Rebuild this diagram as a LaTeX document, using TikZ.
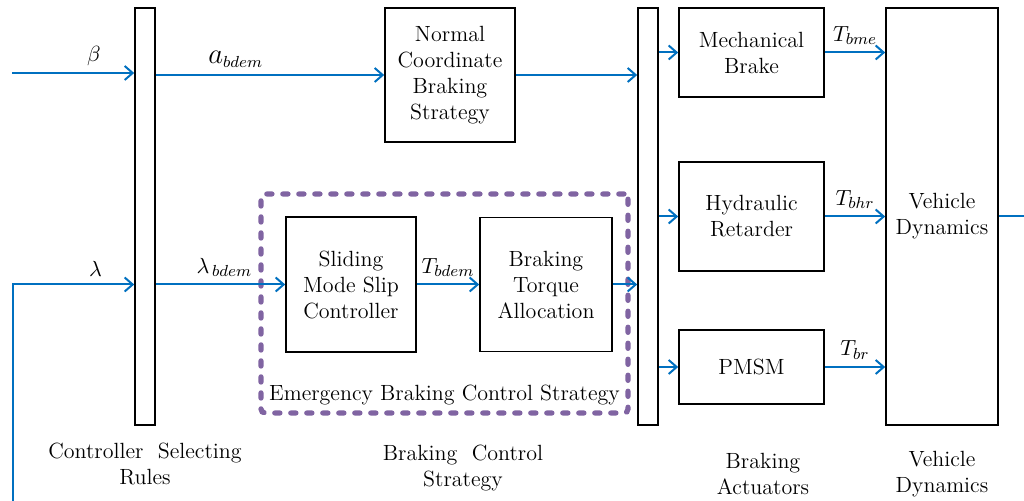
\documentclass[tikz,border=0pt]{standalone}
\usepackage{amsmath}
\usetikzlibrary{arrows.meta}
\definecolor{sigblue}{RGB}{0,112,192}
\definecolor{ebpurple}{RGB}{128,100,162}

\begin{document}
\begin{tikzpicture}[x=0.5pt, y=-0.5pt,
    font=\fontsize{11}{13}\selectfont,
    block/.style ={rectangle, draw, line width=0.8pt, align=center, inner sep=1pt},
    bar/.style ={rectangle, draw, line width=0.8pt, minimum width=10pt, minimum height=208.5pt},
    signal/.style ={draw=sigblue, line width=1pt, -{Straight Barb[length=4pt, width=7pt]}},
    caption/.style ={align=center, font=\fontsize{11}{13}\selectfont}]
   \useasboundingbox (0,0) rectangle (1024,501);

   \node[bar] (csr) at (145,216.5) {};
   \node[bar] (sel) at (648,216.5) {};
   \node[block, minimum width=65pt, minimum height=67pt] (ncbs) at (450,75) {Normal\\Coordinate\\Braking\\Strategy};
   \node[rectangle, draw=ebpurple, line width=2.6pt, dash pattern=on 2.6pt off 5.4pt, line cap=round, rounded corners=2pt,
         minimum width=183.5pt, minimum height=109.5pt] (ebcs) at (444.5,303.5) {};
   \node[block, minimum width=65pt, minimum height=67.5pt] (smsc) at (351,284.5) {Sliding\\Mode Slip\\Controller};
   \node[block, minimum width=66pt, minimum height=67pt] (bta) at (546,284.5) {Braking\\Torque\\Allocation};
   \node (ebl) at (444.5,395) {Emergency Braking Control Strategy};
   \node[block, minimum width=72.5pt, minimum height=44.5pt] (mb) at (751.5,52.5) {Mechanical\\Brake};
   \node[block, minimum width=72.5pt, minimum height=54.5pt] (hr) at (751.5,216.5) {Hydraulic\\Retarder};
   \node[block, minimum width=72.5pt, minimum height=37pt] (pmsm) at (751.5,367) {PMSM};
   \node[block, minimum width=56pt, minimum height=208.5pt] (vd) at (942,216.5) {Vehicle\\Dynamics};

   \coordinate (bin) at (12,73);
   \coordinate (lin) at (13,501);
   \coordinate (vout) at (1024,216.5);

   \draw[signal] (bin) -- node[above, pos=0.67] {$\beta$} (bin -| csr.west);
   \draw[signal] (csr.east |- ncbs.west) -- node[above, pos=0.35] {{\fontsize{14}{14}\selectfont$a$}$_{bdem}$} (ncbs.west);
   \draw[signal] (ncbs.east) -- (ncbs.east -| sel.west);
   \draw[signal] (lin) |- node[above, pos=0.84] {$\lambda$} (csr.west |- smsc.west);
   \draw[signal] (csr.east |- smsc.west) -- node[above, pos=0.53] {$\lambda_{\,bdem}$} (smsc.west);
   \draw[signal] (smsc.east) -- node[above] {$T_{bdem}$} (bta.west);
   \draw[signal] (bta.east) -- (bta.east -| sel.west);
   \draw[signal] (sel.east |- mb.west) -- (mb.west);
   \draw[signal] (sel.east |- hr.west) -- (hr.west);
   \draw[signal] (sel.east |- pmsm.west) -- (pmsm.west);
   \draw[signal] (mb.east) -- node[above] {$T_{bme}$} (mb.east -| vd.west);
   \draw[signal] (hr.east) -- node[above] {$T_{bhr}$} (hr.east -| vd.west);
   \draw[signal] (pmsm.east) -- node[above] {$T_{br}$} (pmsm.east -| vd.west);
   \draw[draw=sigblue, line width=1pt] (vd.east) -- (vout);

   \node[caption] (csrl) at (145,464) {Controller\ \ Selecting\\Rules};
   \node[caption] (bcsl) at (463,468) {Braking\ \ Control\\Strategy};
   \node[caption] (bal) at (763,474) {Braking\\Actuators};
   \node[caption] (vdl) at (942,474) {Vehicle\\Dynamics};
 \end{tikzpicture}
\end{document}
